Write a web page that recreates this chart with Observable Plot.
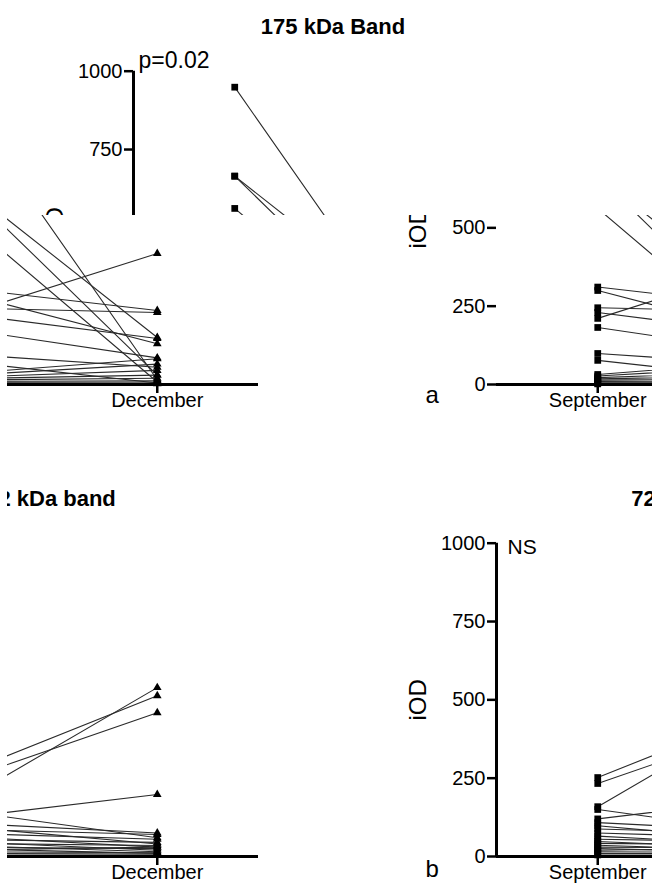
<!DOCTYPE html>
<html>
<head>
<meta charset="utf-8">
<script src="https://cdn.jsdelivr.net/npm/d3@7"></script>
<script src="https://cdn.jsdelivr.net/npm/@observablehq/plot@0.6"></script>
<style>
  html, body { margin: 0; padding: 0; background: white; }
  #root { position: relative; width: 655px; height: 890px; overflow: hidden; background: white; }
  .tile { position: absolute; overflow: hidden; }
  .fig { position: absolute; width: 1020px; height: 912px; }
  .fig svg { position: absolute; left: 0; }
</style>
</head>
<body>
<div id="root"></div>
<script>
// ---- data ----
const months = ["September", "December"];
const yTicks = [0, 250, 500, 750, 1000];

const titleA = "175 kDa Band";
const statA = "p=0.02";
const letterA = "a";
const sepA = [949, 665, 665, 562, 311, 300, 245, 230, 211, 182, 99, 77, 32, 27, 22, 18, 14, 10, 7, 4, 2];
const decA = [15, 150, 30, 8, 236, 130, 230, 147, 418, 85, 55, 5, 82, 65, 45, 30, 20, 12, 8, 4, 2];

const titleB = "72 kDa band";
const statB = "NS";
const letterB = "b";
const sepB = [252, 233, 159, 150, 120, 108, 98, 88, 75, 65, 55, 48, 42, 36, 30, 25, 20, 15, 10, 5];
const decB = [513, 459, 539, 60, 198, 75, 40, 70, 55, 30, 45, 20, 35, 15, 25, 10, 30, 12, 8, 5];

const yLabel = "iOD";
const fontFamily = "'Liberation Sans', Arial, Helvetica, sans-serif";

function panel(cfg, withAxisLine) {
  const rows = cfg.sep.flatMap((s, i) => [{id: i, m: 0, v: s}, {id: i, m: 1, v: cfg.dec[i]}]);
  return Plot.plot({
    width: 1020,
    height: 440,
    marginTop: 70.7,
    marginLeft: 496,
    marginRight: 117,
    marginBottom: 56,
    x: {domain: [-0.495, 1.495]},
    y: {domain: [0, 1000]},
    style: {fontFamily, background: "transparent", overflow: "visible", color: "black"},
    marks: [
      Plot.line(rows, {x: "m", y: "v", z: "id", stroke: "#2a2a2a", strokeWidth: 1.1}),
      Plot.ruleY([0], {strokeWidth: 3}),
      withAxisLine ? Plot.ruleX([-0.495], {y1: 0, y2: 1000, strokeWidth: 3}) : null,
      Plot.axisY({ticks: yTicks, tickFormat: (d) => String(d), tickSize: 9, tickPadding: 2, fontSize: 20, strokeWidth: 2.5, label: null}),
      Plot.axisX({ticks: [0, 1], tickFormat: (i) => months[i], tickSize: 9, tickPadding: -1, fontSize: 20, strokeWidth: 2.5, label: null}),
      Plot.dot(rows.filter((d) => d.m === 0), {x: "m", y: "v", symbol: "square", r: 3.8, fill: "black"}),
      Plot.dot(rows.filter((d) => d.m === 1), {x: "m", y: "v", symbol: "triangle", r: 3.2, fill: "black"}),
      Plot.text([cfg.title], {text: (d) => d, frameAnchor: "top", textAnchor: "middle", dx: -4, dy: -37.5, lineAnchor: "bottom", fontSize: 22, fontWeight: "bold"}),
      Plot.text([cfg.stat], {text: (d) => d, frameAnchor: "top-left", textAnchor: "start", dx: cfg.statDx, dy: cfg.statDy, lineAnchor: "bottom", fontSize: cfg.statSize}),
      Plot.text([yLabel], {text: (d) => d, frameAnchor: "left", textAnchor: "middle", dx: -78, rotate: -90, fontSize: 24}),
      Plot.text([cfg.letter], {text: (d) => d, frameAnchor: "bottom-left", textAnchor: "start", dx: -71, dy: cfg.letterDy, lineAnchor: "bottom", fontSize: 24})
    ]
  });
}

const A = {title: titleA, stat: statA, letter: letterA, sep: sepA, dec: decA, statDx: 5, statDy: -3.7, statSize: 23, letterDy: 18};
const B = {title: titleB, stat: statB, letter: letterB, sep: sepB, dec: decB, statDx: 11, statDy: 10.4, statSize: 21, letterDy: 20};

function figure(aAxisLine) {
  const fig = document.createElement("div");
  fig.className = "fig";
  const a = panel(A, aAxisLine);
  a.style.top = "0px";
  const b = panel(B, true);
  b.style.top = "472px";
  fig.appendChild(a);
  fig.appendChild(b);
  return fig;
}

const tiles = [
  {left: 0, top: 0, width: 655, height: 215, figX: -363, axisLine: true},
  {left: 330, top: 215, width: 322, height: 675, figX: 0, axisLine: false},
  {left: 7, top: 215, width: 323, height: 675, figX: -645, axisLine: false}
];

const root = document.getElementById("root");
for (const t of tiles) {
  const tile = document.createElement("div");
  tile.className = "tile";
  tile.style.left = t.left + "px";
  tile.style.top = t.top + "px";
  tile.style.width = t.width + "px";
  tile.style.height = t.height + "px";
  const fig = figure(t.axisLine);
  fig.style.left = (t.figX - t.left) + "px";
  fig.style.top = (-t.top) + "px";
  tile.appendChild(fig);
  root.appendChild(tile);
}
</script>
</body>
</html>
